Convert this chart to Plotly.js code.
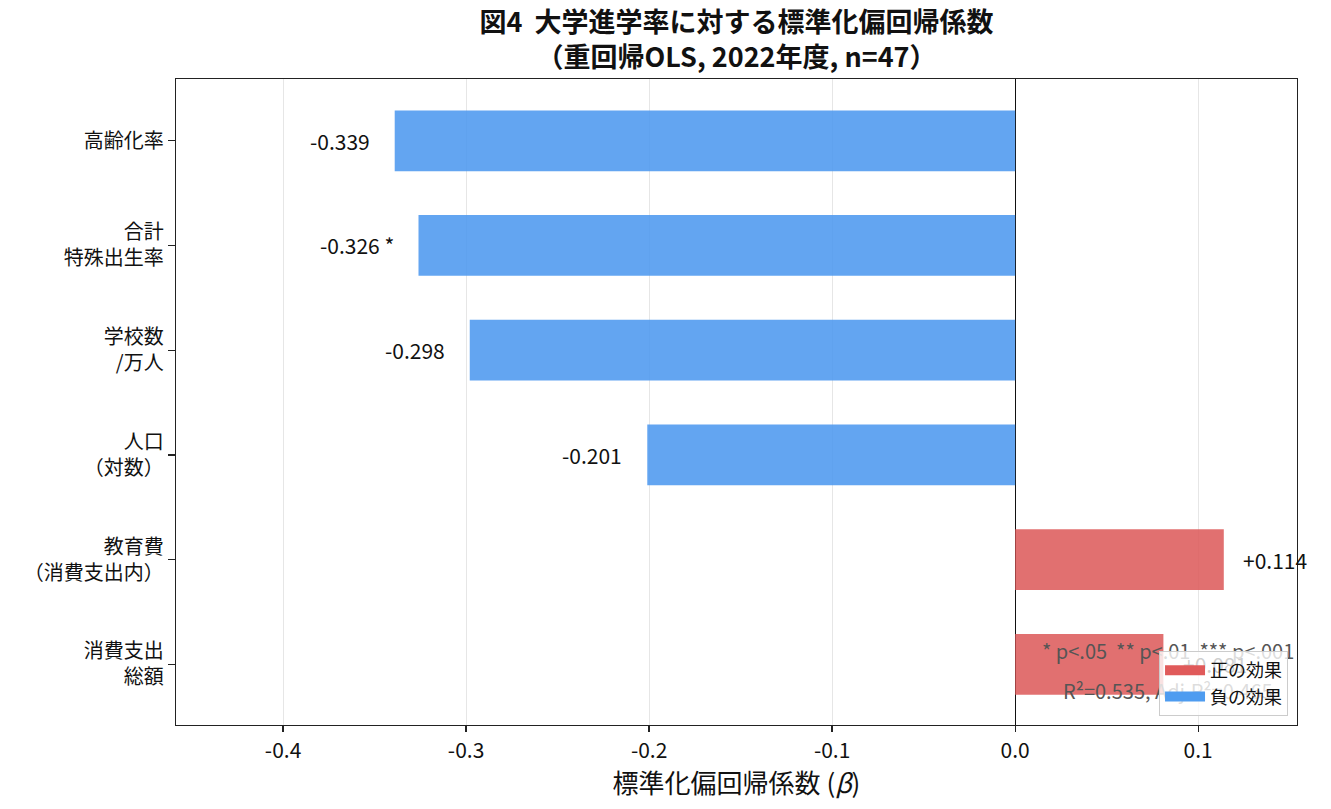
<!DOCTYPE html>
<html>
<head>
<meta charset="utf-8">
<script src="https://cdn.plot.ly/plotly-3.0.1.min.js"></script>
<style>
  html, body { margin: 0; padding: 0; background: #fff; }
  #chart { width: 1331px; height: 809px; }
</style>
</head>
<body>
<div id="chart"></div>
<script>
/* ── Data: standardized coefficients (top → bottom) ───────── */
const CATEGORIES = [
  '高齢化率',
  '合計<br>特殊出生率',
  '学校数<br>/万人',
  '人口<br>（対数）',
  '教育費<br>（消費支出内）',
  '消費支出<br>総額'
];
const BETAS = [-0.339, -0.326, -0.298, -0.201, 0.114, 0.081];
const SIG_MARKS = ['', ' *', '', '', '', ''];
const NOTES = ['* p&lt;.05  ** p&lt;.01  *** p&lt;.001', 'R²=0.535, Adj.R²=0.465'];

const FONT = '"Noto Sans CJK JP", "Noto Sans", sans-serif';
const POS_BAR = 'rgba(220,87,87,0.85)';
const NEG_BAR = 'rgba(72,149,239,0.85)';
const POS_KEY = '#E05A5A';
const NEG_KEY = '#4E9CF0';

/* ── Bars ─────────────────────────────────────────────────── */
const barTrace = {
  type: 'bar',
  orientation: 'h',
  x: BETAS,
  y: CATEGORIES,
  width: 0.58,
  marker: { color: BETAS.map(v => v >= 0 ? POS_BAR : NEG_BAR), line: { width: 0 } },
  showlegend: false,
  hoverinfo: 'x+y'
};

/* legend keys only */
const keyPos = {
  type: 'scatter', mode: 'lines', x: [null], y: [null],
  name: '正の効果', line: { color: POS_KEY, width: 14 }
};
const keyNeg = {
  type: 'scatter', mode: 'lines', x: [null], y: [null],
  name: '負の効果', line: { color: NEG_KEY, width: 14 }
};

/* ── Value labels ─────────────────────────────────────────── */
const valueLabels = BETAS.map((v, i) => ({
  x: v >= 0 ? v + 0.0095 : v - 0.0125,
  y: CATEGORIES[i],
  xref: 'x', yref: 'y',
  text: (v >= 0 ? '+' : '') + v.toFixed(3) + SIG_MARKS[i],
  showarrow: false,
  xanchor: v >= 0 ? 'left' : 'right',
  yanchor: 'middle',
  font: { family: FONT, size: 21, color: '#111' }
}));

/* ── Significance / fit notes (lower right) ──────────────── */
const noteLabels = NOTES.map((t, i) => ({
  xref: 'paper', yref: 'paper',
  x: 0.885, y: i === 0 ? 0.116 : 0.054,
  xanchor: 'center', yanchor: 'middle',
  text: t,
  showarrow: false,
  font: { family: FONT, size: 20, color: '#555' }
}));

const layout = {
  width: 1331,
  height: 809,
  margin: { l: 176, r: 34, t: 79, b: 84 },
  paper_bgcolor: '#fff',
  plot_bgcolor: '#fff',
  font: { family: FONT, color: '#111' },
  barmode: 'overlay',
  title: {
    text: '<b>図4  大学進学率に対する標準化偏回帰係数<br>（重回帰OLS, 2022年度, n=47）</b>',
    font: { family: FONT, size: 27, color: '#111' },
    x: 0.5, xref: 'paper',
    y: 0.96, yref: 'container', yanchor: 'middle'
  },
  xaxis: {
    range: [-0.4585, 0.154],
    tickvals: [-0.4, -0.3, -0.2, -0.1, 0.0, 0.1],
    ticktext: ['-0.4', '-0.3', '-0.2', '-0.1', '0.0', '0.1'],
    showgrid: true, gridcolor: '#e6e6e6', gridwidth: 1,
    zeroline: true, zerolinecolor: '#111', zerolinewidth: 1.2,
    showline: true, mirror: true, linecolor: '#222', linewidth: 1.3,
    ticks: 'outside', ticklen: 6, tickcolor: '#222', tickwidth: 1.3,
    tickfont: { family: FONT, size: 21, color: '#111' },
    title: { text: '標準化偏回帰係数 (<i>β</i>)', font: { family: FONT, size: 26, color: '#111' }, standoff: 3 }
  },
  yaxis: {
    type: 'category',
    categoryorder: 'array',
    categoryarray: CATEGORIES,
    range: [5.58, -0.59],
    showgrid: false,
    zeroline: false,
    showline: true, mirror: true, linecolor: '#222', linewidth: 1.3,
    ticks: 'outside', ticklen: 7, tickcolor: '#222', tickwidth: 1.3,
    tickfont: { family: FONT, size: 20, color: '#111' }
  },
  legend: {
    x: 0.992, y: 0.014, xanchor: 'right', yanchor: 'bottom',
    bgcolor: 'rgba(255,255,255,0.8)',
    bordercolor: '#cccccc', borderwidth: 1,
    font: { family: FONT, size: 18, color: '#111' },
    itemwidth: 40,
    tracegroupgap: 2
  },
  annotations: valueLabels.concat(noteLabels)
};

Plotly.newPlot('chart', [barTrace, keyPos, keyNeg], layout, { displayModeBar: false, staticPlot: true })
  .then(() => {
    // keep the legend box on top of the notes, as in the reference
    const leg = document.querySelector('#chart .infolayer .legend');
    if (leg) leg.parentNode.appendChild(leg);
  });
</script>
</body>
</html>
